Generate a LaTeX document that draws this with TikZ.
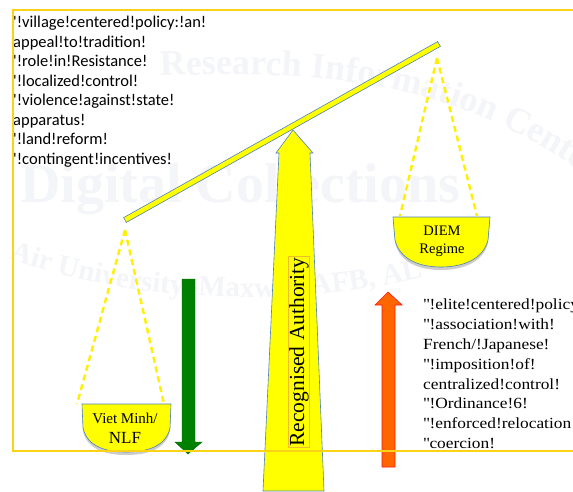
\documentclass[tikz,border=0pt]{standalone}
\usepackage{fontspec}
\setmainfont{Liberation Serif}
\newfontfamily\listfont{Carlito}
\newfontfamily\regimefont{Liberation Serif}[FakeStretch=1.12]
\usetikzlibrary{shadows,decorations.text}
\definecolor{scaleYellow}{RGB}{255,255,0}
\definecolor{scaleBlue}{RGB}{79,129,189}
\definecolor{frameYellow}{RGB}{250,212,20}
\definecolor{ropeYellow}{RGB}{255,240,0}
\definecolor{forceGreen}{RGB}{0,128,0}
\definecolor{forceOrange}{RGB}{255,102,0}
\definecolor{forceRed}{RGB}{255,20,20}
\definecolor{labelGold}{RGB}{240,190,40}
\definecolor{markGray}{RGB}{244,245,248}

\begin{document}
\begin{tikzpicture}[x=1pt, y=-1pt,
    pan/.style={fill=scaleYellow, draw=scaleBlue, line width=0.6pt, drop shadow={shadow xshift=0pt, shadow yshift=-3pt, opacity=0.2, fill=black}},
    rope/.style={ropeYellow, line width=2.4pt, dash pattern=on 6pt off 4pt},
    panlabel/.style={align=center, inner sep=0pt},
    listtext/.style={anchor=north west, inner sep=0pt, align=left}]
  \useasboundingbox (0,0) rectangle (573,491);
  \fill[white] (0,0) rectangle (573,491);

  \path[decorate, decoration={text along path, text align=left,
      text={|\fontsize{36}{36}\selectfont\bfseries\color{markGray}|Research Information Center}}]
    (160,76) .. controls (360,68) and (480,90) .. (620,200);
  \node[font=\fontsize{56}{56}\selectfont\bfseries, text=markGray, anchor=base west, inner sep=0pt] (markMid) at (20,202) {Digital Collections};
  \path[decorate, decoration={text along path, text align=left,
      text={|\fontsize{29}{29}\selectfont\bfseries\color{markGray}|Air University–Maxwell AFB, AL}}]
    (10,258) .. controls (150,312) and (390,318) .. (560,225);

  \fill[scaleYellow, draw=scaleBlue, line width=0.6pt] (263,491) -- (279,153) -- (276,153) -- (293,130) -- (313,153) -- (310,153) -- (324,491) -- cycle;
  \node[draw=labelGold, line width=0.8pt, rotate=90, inner sep=1pt, font=\fontsize{21.5}{22}\selectfont] (authLabel) at (299,352) {Recognised Authority};

  \node[fill=scaleYellow, draw=scaleBlue, line width=0.6pt, rotate=29.27, minimum width=360pt, minimum height=5.5pt, inner sep=0pt] (beam) at (282,132) {};
  \coordinate (hookL) at (125,230);
  \coordinate (hookR) at (437,58);
  \coordinate (vmPanL) at (77,404);
  \coordinate (vmPanR) at (164,404);
  \coordinate (diemPanL) at (400,216);
  \coordinate (diemPanR) at (477,216);
  \draw[rope] (hookL) -- (vmPanL);
  \draw[rope] (hookL) -- (vmPanR);
  \draw[rope] (hookR) -- (diemPanL);
  \draw[rope] (hookR) -- (diemPanR);

  \path[pan] (82,404) -- (83,428) .. controls (87,446) and (105,452) .. (126,452) .. controls (148,452) and (166,446) .. (170,428) -- (171,404) -- cycle;
  \path[pan] (393,217) -- (395,240) .. controls (400,260) and (420,267) .. (441,267) .. controls (462,267) and (483,260) .. (488,240) -- (490,217) -- cycle;
  \node[panlabel, font=\fontsize{15}{20}\selectfont] (vmLabel) at (125,428) {Viet Minh/\\{\fontsize{17}{20}\selectfont NLF}};
  \node[panlabel, font=\fontsize{14.5}{18}\selectfont] (diemLabel) at (442,241) {DIEM\\Regime};

  \filldraw[fill=forceGreen, draw=forceGreen!80!black, line width=0.4pt] (182,279) -- (195,279) -- (195,442) -- (202,442) -- (188,454) -- (175,442) -- (182,442) -- cycle;
  \filldraw[fill=forceOrange, draw=forceRed, line width=0.6pt] (382,467) -- (382,305) -- (375,305) -- (388,292) -- (402,305) -- (395,305) -- (395,467) -- cycle;

  \node[listtext, font=\listfont\fontsize{16.5}{19.5}\selectfont] (vmList) at (13,16) {\textquotesingle!village!centered!policy:!an!\\
    appeal!to!tradition!\\
    \textquotesingle!role!in!Resistance!\\
    \textquotesingle!localized!control!\\
    \textquotesingle!violence!against!state!\\
    apparatus!\\
    \textquotesingle!land!reform!\\
    \textquotesingle!contingent!incentives!};
  \node[listtext, font=\regimefont\fontsize{15.5}{19.8}\selectfont] (diemList) at (423,299) {\textquotedbl!elite!centered!policy!\\
    \textquotedbl!association!with!\\
    French/!Japanese!\\
    \textquotedbl!imposition!of!\\
    centralized!control!\\
    \textquotedbl!Ordinance!6!\\
    \textquotedbl!enforced!relocation!\\
    \textquotedbl coercion!};

  \draw[frameYellow, line width=2pt] (13,10) rectangle (590,451);
\end{tikzpicture}
\end{document}
